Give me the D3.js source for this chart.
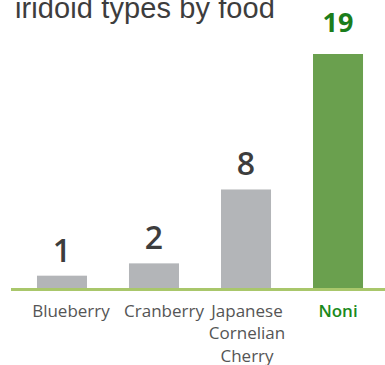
<!DOCTYPE html>
<html>
<head>
<meta charset="utf-8">
<script src="https://cdn.jsdelivr.net/npm/d3@7"></script>
<style>
  html, body { margin: 0; padding: 0; background: #fff; }
  svg { display: block; }
</style>
</head>
<body>
<div id="chart"></div>
<script>
const categories = ["Blueberry", "Cranberry", "Japanese Cornelian Cherry", "Noni"];
const labelLines = [["Blueberry"], ["Cranberry"], ["Japanese", "Cornelian", "Cherry"], ["Noni"]];
const values = [1, 2, 8, 19];
const highlight = "Noni";
const title = "iridoid types by food";

const W = 385, H = 365;
const baseY = 288;
const labelShift = [9, 10, 1, 0]; // horizontal nudge of category labels, as in the reference

const svg = d3.select("#chart").append("svg").attr("width", W).attr("height", H);

const x = d3.scaleBand().domain(categories).range([16, 384])
  .paddingInner(0.4565).paddingOuter(0.228);
const y = d3.scaleLinear().domain([0, 19]).range([baseY, 54]);

// title (cropped at top in the reference)
svg.append("text")
  .attr("x", 15).attr("y", 18)
  .attr("font-family", "'Liberation Sans', Arial, sans-serif")
  .attr("font-size", 29)
  .attr("letter-spacing", 0.1)
  .attr("fill", "#3d3d3d")
  .text(title);

// bars
svg.selectAll("rect.bar").data(values).join("rect")
  .attr("class", "bar")
  .attr("x", (d, i) => x(categories[i]))
  .attr("width", x.bandwidth())
  .attr("y", d => y(d))
  .attr("height", d => baseY - y(d))
  .attr("fill", (d, i) => categories[i] === highlight ? "#6aa04e" : "#b3b5b8");

// baseline
svg.append("line")
  .attr("x1", 11).attr("x2", W)
  .attr("y1", baseY + 1.5).attr("y2", baseY + 1.5)
  .attr("stroke", "#a9c76b").attr("stroke-width", 3);

// value labels
svg.selectAll("text.val").data(values).join("text")
  .attr("class", "val")
  .attr("x", (d, i) => x(categories[i]) + x.bandwidth() / 2)
  .attr("y", (d, i) => y(d) - (categories[i] === highlight ? 22 : 14))
  .attr("text-anchor", "middle")
  .attr("font-family", "'Open Sans', sans-serif")
  .attr("font-weight", (d, i) => categories[i] === highlight ? 700 : 600)
  .attr("font-size", (d, i) => categories[i] === highlight ? 27 : 32)
  .attr("fill", (d, i) => categories[i] === highlight ? "#1b7d1b" : "#3d3d3d")
  .text(d => d);

// category labels
const cat = svg.selectAll("text.cat").data(categories).join("text")
  .attr("class", "cat")
  .attr("y", 316.5)
  .attr("text-anchor", "middle")
  .attr("font-family", "'Open Sans', sans-serif")
  .attr("font-size", 17)
  .attr("font-weight", d => d === highlight ? 600 : 400)
  .attr("fill", d => d === highlight ? "#1b8a1b" : "#555");
cat.each(function(d, i) {
  d3.select(this).selectAll("tspan").data(labelLines[i]).join("tspan")
    .attr("x", x(d) + x.bandwidth() / 2 + labelShift[i])
    .attr("dy", (t, j) => j === 0 ? 0 : 22.5)
    .text(t => t);
});
</script>
</body>
</html>
